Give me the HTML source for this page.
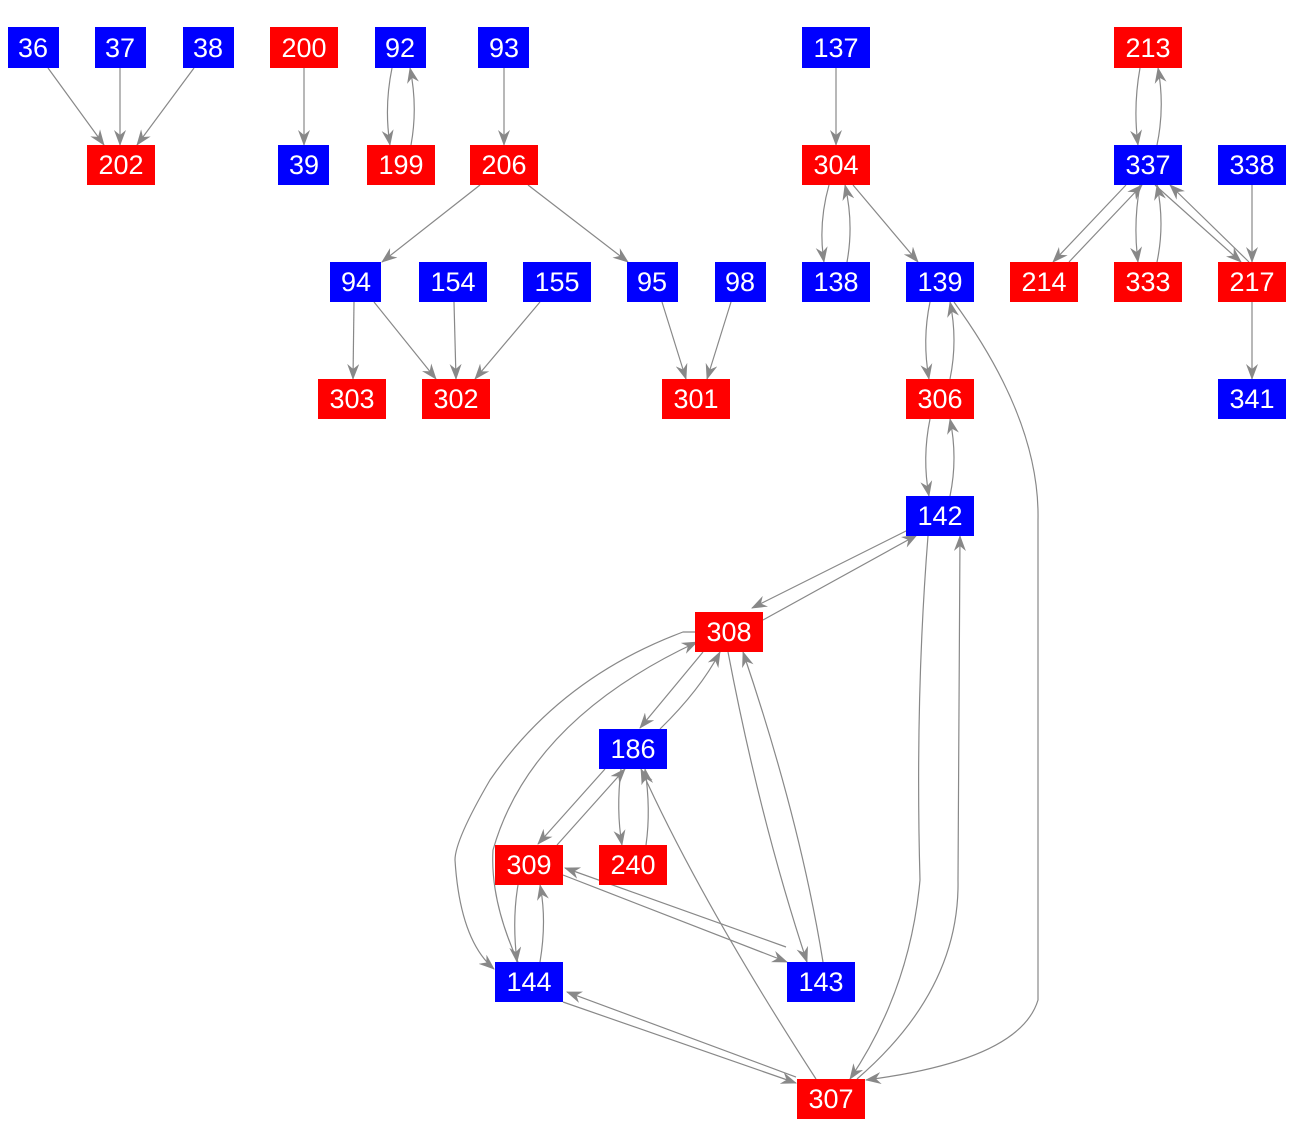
<!DOCTYPE html>
<html><head><meta charset="utf-8"><style>
html,body{margin:0;padding:0;background:#fff;}
svg{display:block;}
text{font-family:"Liberation Sans",Arial,sans-serif;font-size:27px;fill:#fff;text-anchor:middle;dominant-baseline:central;}
.e{fill:none;stroke:#888;stroke-width:1.2;marker-end:url(#a);}
</style></head><body>
<svg width="1294" height="1142" viewBox="0 0 1294 1142" xmlns="http://www.w3.org/2000/svg">
<defs><marker id="a" markerUnits="userSpaceOnUse" markerWidth="16" markerHeight="12" refX="15" refY="6" orient="auto"><path d="M0,0 L16,6 L0,12 L5,6 Z" fill="#888"/></marker></defs>
<g>
<path class="e" d="M48,68 L104,145"/>
<path class="e" d="M120,68 L120,145"/>
<path class="e" d="M194,68 L137,145"/>
<path class="e" d="M304,68 L304,145"/>
<path class="e" d="M392,68 Q384,107 390,145"/>
<path class="e" d="M411,145 Q418,107 410,68"/>
<path class="e" d="M504,68 L504,145"/>
<path class="e" d="M480,185 L382,262"/>
<path class="e" d="M528,185 L628,262"/>
<path class="e" d="M836,68 L836,145"/>
<path class="e" d="M829,185 Q818,224 824,262"/>
<path class="e" d="M847,262 Q854,224 845,185"/>
<path class="e" d="M853,185 L918,262"/>
<path class="e" d="M1140,68 Q1133,107 1138,145"/>
<path class="e" d="M1157,145 Q1165,107 1158,68"/>
<path class="e" d="M1126,185 L1053,262"/>
<path class="e" d="M1069,262 L1142,185"/>
<path class="e" d="M1140,185 Q1133,224 1138,262"/>
<path class="e" d="M1157,262 Q1165,224 1157,185"/>
<path class="e" d="M1155,185 L1241,262"/>
<path class="e" d="M1249,262 L1170,185"/>
<path class="e" d="M1252,185 L1252,262"/>
<path class="e" d="M1252,302 L1252,379"/>
<path class="e" d="M354,302 L353,379"/>
<path class="e" d="M374,302 L436,379"/>
<path class="e" d="M454,302 L456,379"/>
<path class="e" d="M540,302 L475,379"/>
<path class="e" d="M662,302 L686,379"/>
<path class="e" d="M731,302 L707,379"/>
<path class="e" d="M930,302 Q922,340 929,379"/>
<path class="e" d="M950,379 Q958,340 950,302"/>
<path class="e" d="M954,302 Q1040,420 1038,520 L1038,1000 Q1020,1060 866,1080"/>
<path class="e" d="M930,419 Q922,458 929,496"/>
<path class="e" d="M950,496 Q958,458 950,419"/>
<path class="e" d="M908,530 L752,608"/>
<path class="e" d="M763,620 L917,535"/>
<path class="e" d="M928,536 Q915,700 920,880 Q910,990 850,1079"/>
<path class="e" d="M857,1079 Q960,990 958,880 L960,536"/>
<path class="e" d="M703,652 L640,728"/>
<path class="e" d="M660,729 Q700,690 720,652"/>
<path class="e" d="M695,632 L683,632 Q560,678 490,780 Q455,840 455,860 Q460,940 494,969"/>
<path class="e" d="M518,962 Q490,900 493,850 Q530,720 697,642"/>
<path class="e" d="M728,652 Q760,820 807,962"/>
<path class="e" d="M823,962 Q800,820 743,652"/>
<path class="e" d="M605,769 L538,844"/>
<path class="e" d="M557,845 L625,769"/>
<path class="e" d="M621,769 Q616,810 622,845"/>
<path class="e" d="M646,845 Q651,810 645,769"/>
<path class="e" d="M816,1079 Q700,900 641,769"/>
<path class="e" d="M518,885 Q512,920 517,962"/>
<path class="e" d="M540,962 Q547,920 540,885"/>
<path class="e" d="M563,875 L787,962"/>
<path class="e" d="M786,947 L565,868"/>
<path class="e" d="M563,1002 L796,1083"/>
<path class="e" d="M796,1077 L567,992"/>
</g>
<g>
<rect x="8" y="27" width="51" height="41" fill="#00f"/><text x="33" y="48">36</text>
<rect x="95" y="27" width="51" height="41" fill="#00f"/><text x="120" y="48">37</text>
<rect x="183" y="27" width="51" height="41" fill="#00f"/><text x="208" y="48">38</text>
<rect x="270" y="27" width="68" height="41" fill="#f00"/><text x="304" y="48">200</text>
<rect x="375" y="27" width="51" height="41" fill="#00f"/><text x="400" y="48">92</text>
<rect x="478" y="27" width="51" height="41" fill="#00f"/><text x="504" y="48">93</text>
<rect x="802" y="27" width="68" height="41" fill="#00f"/><text x="836" y="48">137</text>
<rect x="1114" y="27" width="68" height="41" fill="#f00"/><text x="1148" y="48">213</text>

<rect x="87" y="145" width="68" height="40" fill="#f00"/><text x="121" y="165">202</text>
<rect x="278" y="145" width="51" height="40" fill="#00f"/><text x="304" y="165">39</text>
<rect x="367" y="145" width="68" height="40" fill="#f00"/><text x="401" y="165">199</text>
<rect x="470" y="145" width="68" height="40" fill="#f00"/><text x="504" y="165">206</text>
<rect x="802" y="145" width="68" height="40" fill="#f00"/><text x="836" y="165">304</text>
<rect x="1114" y="145" width="68" height="40" fill="#00f"/><text x="1148" y="165">337</text>
<rect x="1218" y="145" width="68" height="40" fill="#00f"/><text x="1252" y="165">338</text>

<rect x="330" y="262" width="51" height="40" fill="#00f"/><text x="356" y="282">94</text>
<rect x="419" y="262" width="68" height="40" fill="#00f"/><text x="453" y="282">154</text>
<rect x="523" y="262" width="68" height="40" fill="#00f"/><text x="557" y="282">155</text>
<rect x="627" y="262" width="51" height="40" fill="#00f"/><text x="652" y="282">95</text>
<rect x="715" y="262" width="51" height="40" fill="#00f"/><text x="740" y="282">98</text>
<rect x="802" y="262" width="68" height="40" fill="#00f"/><text x="836" y="282">138</text>
<rect x="906" y="262" width="68" height="40" fill="#00f"/><text x="940" y="282">139</text>
<rect x="1010" y="262" width="68" height="40" fill="#f00"/><text x="1044" y="282">214</text>
<rect x="1114" y="262" width="68" height="40" fill="#f00"/><text x="1148" y="282">333</text>
<rect x="1218" y="262" width="68" height="40" fill="#f00"/><text x="1252" y="282">217</text>

<rect x="318" y="379" width="68" height="40" fill="#f00"/><text x="352" y="399">303</text>
<rect x="422" y="379" width="68" height="40" fill="#f00"/><text x="456" y="399">302</text>
<rect x="662" y="379" width="68" height="40" fill="#f00"/><text x="696" y="399">301</text>
<rect x="906" y="379" width="68" height="40" fill="#f00"/><text x="940" y="399">306</text>
<rect x="1218" y="379" width="68" height="40" fill="#00f"/><text x="1252" y="399">341</text>

<rect x="906" y="496" width="68" height="40" fill="#00f"/><text x="940" y="516">142</text>
<rect x="695" y="612" width="68" height="40" fill="#f00"/><text x="729" y="632">308</text>
<rect x="599" y="729" width="68" height="40" fill="#00f"/><text x="633" y="749">186</text>
<rect x="495" y="845" width="68" height="40" fill="#f00"/><text x="529" y="865">309</text>
<rect x="599" y="845" width="68" height="40" fill="#f00"/><text x="633" y="865">240</text>
<rect x="495" y="962" width="68" height="40" fill="#00f"/><text x="529" y="982">144</text>
<rect x="787" y="962" width="68" height="40" fill="#00f"/><text x="821" y="982">143</text>
<rect x="797" y="1079" width="68" height="40" fill="#f00"/><text x="831" y="1099">307</text>
</g>
</svg>
</body></html>
